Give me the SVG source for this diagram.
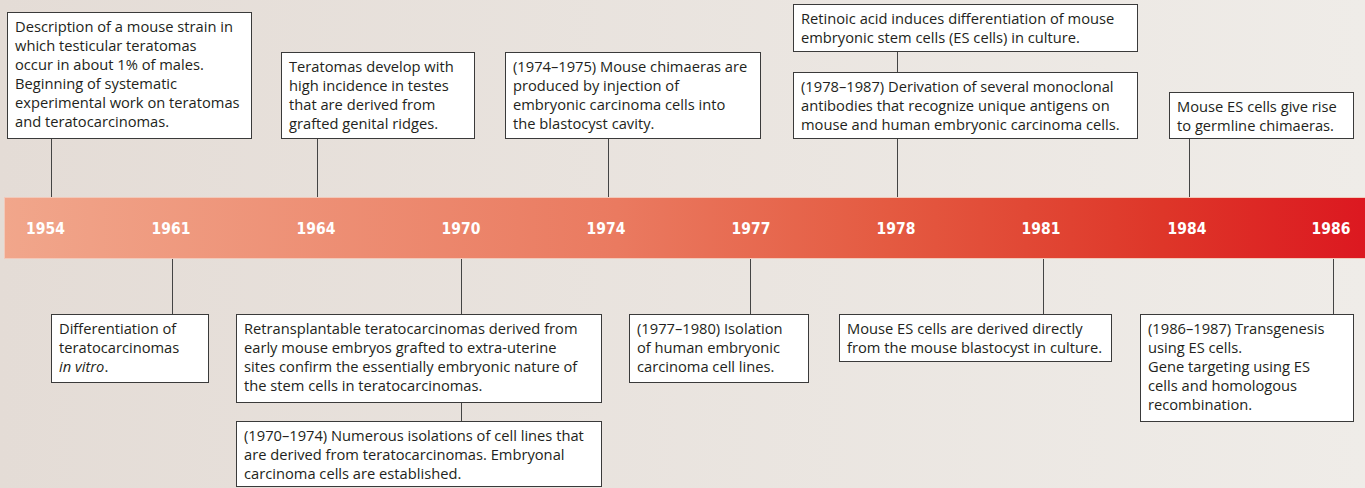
<svg xmlns="http://www.w3.org/2000/svg" width="1365" height="488" viewBox="0 0 1365 488">
<defs>
<linearGradient id="bg" x1="0" y1="0" x2="1" y2="0">
<stop offset="0" stop-color="#e4dcd6"/>
<stop offset="1" stop-color="#efece8"/>
</linearGradient>
<linearGradient id="bar" x1="0" y1="0" x2="1" y2="0">
<stop offset="0" stop-color="#f1a68b"/>
<stop offset="0.45" stop-color="#ea7a60"/>
<stop offset="0.65" stop-color="#e45a41"/>
<stop offset="0.85" stop-color="#de3629"/>
<stop offset="1" stop-color="#dc1820"/>
</linearGradient>
<style>
.box{fill:#ffffff;stroke:#3a3a3a;stroke-width:1}
.t{font-family:"Open Sans","Noto Sans",sans-serif;font-size:14.7px;fill:#231f20}
.yr{font-family:"DejaVu Sans Condensed","DejaVu Sans",sans-serif;font-weight:bold;font-size:15.5px;fill:#ffffff;text-anchor:middle}
.c{stroke:#444;stroke-width:1;fill:none}
</style>
</defs>
<rect x="0" y="0" width="1365" height="488" fill="url(#bg)"/>
<g id="connectors">
<path class="c" d="M51.5 139V197M317.5 139V197M608.5 139V197M897.5 52V72M897.5 139V197M1189.5 139V197"/>
<path class="c" d="M172.5 258V314M461.5 258V314M461.5 403V421M750.5 258V314M1043.5 258V314M1333.5 258V314"/>
</g>
<g id="timeline">
<rect x="4.5" y="197.5" width="1362" height="61" fill="url(#bar)" stroke="#f2c9ba" stroke-width="1"/>
<text class="yr" x="45.5" y="234">1954</text>
<text class="yr" x="171" y="234">1961</text>
<text class="yr" x="316" y="234">1964</text>
<text class="yr" x="461" y="234">1970</text>
<text class="yr" x="606" y="234">1974</text>
<text class="yr" x="751" y="234">1977</text>
<text class="yr" x="896" y="234">1978</text>
<text class="yr" x="1041" y="234">1981</text>
<text class="yr" x="1187" y="234">1984</text>
<text class="yr" x="1331" y="234">1986</text>
</g>
<g id="n1954">
<rect class="box" x="7.5" y="12.5" width="244" height="126"/>
<text class="t" x="15" y="32">Description of a mouse strain in</text>
<text class="t" x="15" y="51">which testicular teratomas</text>
<text class="t" x="15" y="70">occur in about 1% of males.</text>
<text class="t" x="15" y="89">Beginning of systematic</text>
<text class="t" x="15" y="108">experimental work on teratomas</text>
<text class="t" x="15" y="127">and teratocarcinomas.</text>
</g>
<g id="n1964">
<rect class="box" x="281.5" y="52.5" width="193" height="86"/>
<text class="t" x="289" y="72">Teratomas develop with</text>
<text class="t" x="289" y="91">high incidence in testes</text>
<text class="t" x="289" y="110">that are derived from</text>
<text class="t" x="289" y="129">grafted genital ridges.</text>
</g>
<g id="n1974">
<rect class="box" x="505.5" y="52.5" width="255" height="86"/>
<text class="t" x="513" y="72">(1974–1975) Mouse chimaeras are</text>
<text class="t" x="513" y="91">produced by injection of</text>
<text class="t" x="513" y="110">embryonic carcinoma cells into</text>
<text class="t" x="513" y="129">the blastocyst cavity.</text>
</g>
<g id="n1978a">
<rect class="box" x="793.5" y="4.5" width="344" height="47"/>
<text class="t" x="801" y="24">Retinoic acid induces differentiation of mouse</text>
<text class="t" x="801" y="43">embryonic stem cells (ES cells) in culture.</text>
</g>
<g id="n1978b">
<rect class="box" x="793.5" y="72.5" width="344" height="66"/>
<text class="t" x="801" y="92">(1978–1987) Derivation of several monoclonal</text>
<text class="t" x="801" y="111">antibodies that recognize unique antigens on</text>
<text class="t" x="801" y="130">mouse and human embryonic carcinoma cells.</text>
</g>
<g id="n1984">
<rect class="box" x="1169.5" y="92.5" width="184" height="46"/>
<text class="t" x="1177" y="112">Mouse ES cells give rise</text>
<text class="t" x="1177" y="131">to germline chimaeras.</text>
</g>
<g id="n1961">
<rect class="box" x="51.5" y="314.5" width="157" height="68"/>
<text class="t" x="59" y="334">Differentiation of</text>
<text class="t" x="59" y="353">teratocarcinomas</text>
<text class="t" x="59" y="372"><tspan font-style="italic">in vitro</tspan>.</text>
</g>
<g id="n1970a">
<rect class="box" x="236.5" y="314.5" width="365" height="88"/>
<text class="t" x="244" y="334">Retransplantable teratocarcinomas derived from</text>
<text class="t" x="244" y="353">early mouse embryos grafted to extra-uterine</text>
<text class="t" x="244" y="372">sites confirm the essentially embryonic nature of</text>
<text class="t" x="244" y="391">the stem cells in teratocarcinomas.</text>
</g>
<g id="n1970b">
<rect class="box" x="236.5" y="421.5" width="365" height="65"/>
<text class="t" x="244" y="441">(1970–1974) Numerous isolations of cell lines that</text>
<text class="t" x="244" y="460">are derived from teratocarcinomas. Embryonal</text>
<text class="t" x="244" y="479">carcinoma cells are established.</text>
</g>
<g id="n1977">
<rect class="box" x="629.5" y="314.5" width="179" height="68"/>
<text class="t" x="637" y="334">(1977–1980) Isolation</text>
<text class="t" x="637" y="353">of human embryonic</text>
<text class="t" x="637" y="372">carcinoma cell lines.</text>
</g>
<g id="n1981">
<rect class="box" x="839.5" y="314.5" width="272" height="47"/>
<text class="t" x="847" y="334">Mouse ES cells are derived directly</text>
<text class="t" x="847" y="353">from the mouse blastocyst in culture.</text>
</g>
<g id="n1986">
<rect class="box" x="1140.5" y="314.5" width="213" height="107"/>
<text class="t" x="1148" y="334">(1986–1987) Transgenesis</text>
<text class="t" x="1148" y="353">using ES cells.</text>
<text class="t" x="1148" y="372">Gene targeting using ES</text>
<text class="t" x="1148" y="391">cells and homologous</text>
<text class="t" x="1148" y="410">recombination.</text>
</g>
</svg>
